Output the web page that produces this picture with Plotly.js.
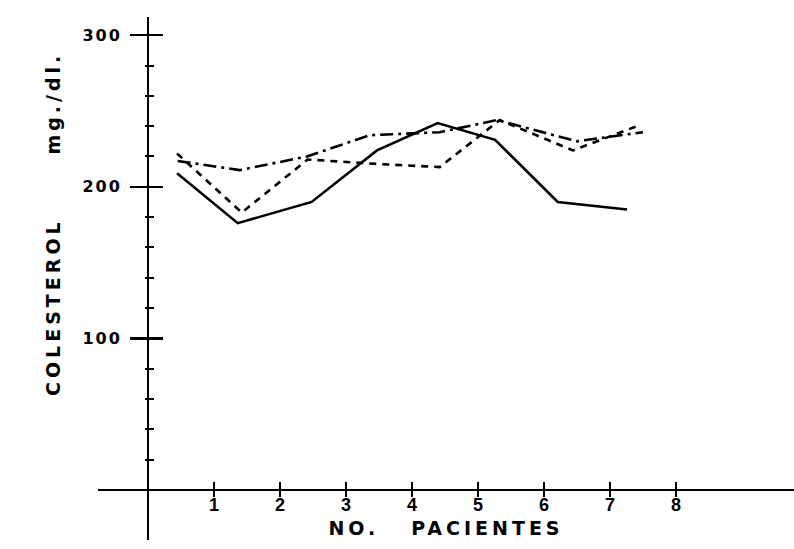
<!DOCTYPE html>
<html>
<head>
<meta charset="utf-8">
<script src="https://cdn.plot.ly/plotly-3.0.1.min.js"></script>
<style>
  html, body { margin: 0; padding: 0; background: #fff; }
  #chart { width: 794px; height: 549px; }
  .annotation-text, .g-xtitle text { letter-spacing: 4px; }
  .ytick text { letter-spacing: 2px; }
</style>
</head>
<body>
<div id="chart"></div>
<script>
// Data (x = patient position, y = cholesterol mg/dl)
const xSolid   = [0.44, 1.36, 2.48, 3.47, 4.39, 5.26, 6.21, 7.26];
const ySolid   = [209, 176, 190, 224, 242, 231, 190, 185];
const xDashed  = [0.44, 1.42, 2.42, 3.50, 4.42, 5.33, 6.44, 7.41];
const yDashed  = [222, 183, 218, 215, 213, 244, 224, 240];
const xDashDot = [0.45, 1.39, 2.41, 3.36, 4.42, 5.29, 6.50, 7.50];
const yDashDot = [217, 211, 220, 234, 236, 244, 230, 236];

const xTickVals = [1, 2, 3, 4, 5, 6, 7, 8];
const xTickText = ['1', '2', '3', '4', '5', '6', '7', '8'];
const yTickVals = [100, 200, 300];
const yTickText = ['100', '200', '300'];
const yMinorVals = [20, 40, 60, 80, 120, 140, 160, 180, 220, 240, 260, 280];

const xTitle = 'NO.\u00a0\u00a0\u00a0PACIENTES';
const yTitle = 'COLESTEROL\u00a0\u00a0\u00a0\u00a0\u00a0\u00a0mg./dl.';

const ink = '#000';
const yTickFont = { family: 'DejaVu Sans', size: 16, color: ink, weight: 'bold' };
const xTickFont = { family: 'Liberation Sans', size: 18, color: ink, weight: 'bold' };
const titleFont = { family: 'DejaVu Sans', size: 19, color: ink, weight: 'bold' };

const traces = [
  { x: xSolid, y: ySolid, mode: 'lines', line: { color: ink, width: 2.6 }, name: 'a' },
  { x: xDashed, y: yDashed, mode: 'lines', line: { color: ink, width: 2.6, dash: '7px,6px' }, name: 'b' },
  { x: xDashDot, y: yDashDot, mode: 'lines', line: { color: ink, width: 2.6, dash: '13px,5px,3px,5px' }, name: 'c' }
];

const xRange = [-0.758, 9.79];
const yRange = [-33, 312];
const xPos = (0 - yRange[0]) / (yRange[1] - yRange[0]);
const yPos = (0 - xRange[0]) / (xRange[1] - xRange[0]);

const layout = {
  width: 794, height: 549,
  margin: { l: 98, r: 0, t: 17, b: 9 },
  paper_bgcolor: '#fff', plot_bgcolor: '#fff',
  showlegend: false,
  font: { family: 'DejaVu Sans', color: ink },
  xaxis: {
    range: xRange, anchor: 'free', position: xPos,
    showgrid: false, showline: false,
    zeroline: true, zerolinecolor: ink, zerolinewidth: 2.5,
    tickmode: 'array', tickvals: xTickVals, ticktext: xTickText,
    ticks: 'outside', ticklen: 6, tickwidth: 2, tickcolor: ink,
    ticklabelstandoff: -8,
    tickfont: xTickFont,
    title: { text: xTitle, font: titleFont, standoff: 8 }
  },
  xaxis2: {
    range: xRange, overlaying: 'x', anchor: 'free', position: xPos,
    showgrid: false, zeroline: false, showline: false,
    tickmode: 'array', tickvals: xTickVals, ticktext: xTickText,
    ticks: 'inside', ticklen: 8, tickwidth: 2, tickcolor: ink,
    showticklabels: false
  },
  yaxis: {
    range: yRange, anchor: 'free', position: yPos,
    showgrid: false, showline: false,
    zeroline: true, zerolinecolor: ink, zerolinewidth: 2.5,
    tickmode: 'array', tickvals: yTickVals, ticktext: yTickText,
    ticks: 'outside', ticklen: 18, tickwidth: 2.5, tickcolor: ink,
    ticklabelstandoff: 5,
    tickfont: yTickFont,
    minor: { tickmode: 'array', tickvals: yMinorVals, ticks: 'outside', ticklen: 3, tickwidth: 2, tickcolor: ink }
  },
  yaxis2: {
    range: yRange, overlaying: 'y', anchor: 'free', position: yPos,
    showgrid: false, zeroline: false, showline: false,
    tickmode: 'array', tickvals: yTickVals, ticktext: yTickText,
    ticks: 'inside', ticklen: 14, tickwidth: 2.5, tickcolor: ink,
    showticklabels: false,
    minor: { tickmode: 'array', tickvals: yMinorVals, ticks: 'inside', ticklen: 5, tickwidth: 2, tickcolor: ink }
  },
  annotations: [
    {
      text: yTitle, xref: 'paper', yref: 'paper',
      x: (40 - 98) / 696, y: (540 - 224) / 523,
      textangle: -90, showarrow: false,
      font: titleFont
    }
  ]
};

// Invisible point to activate the overlay axes that carry the crossing ticks
traces.push({ x: [1], y: [100], xaxis: 'x2', yaxis: 'y2', mode: 'markers', marker: { opacity: 0 }, hoverinfo: 'skip', showlegend: false });

Plotly.newPlot('chart', traces, layout, { displayModeBar: false, staticPlot: true });
</script>
</body>
</html>
